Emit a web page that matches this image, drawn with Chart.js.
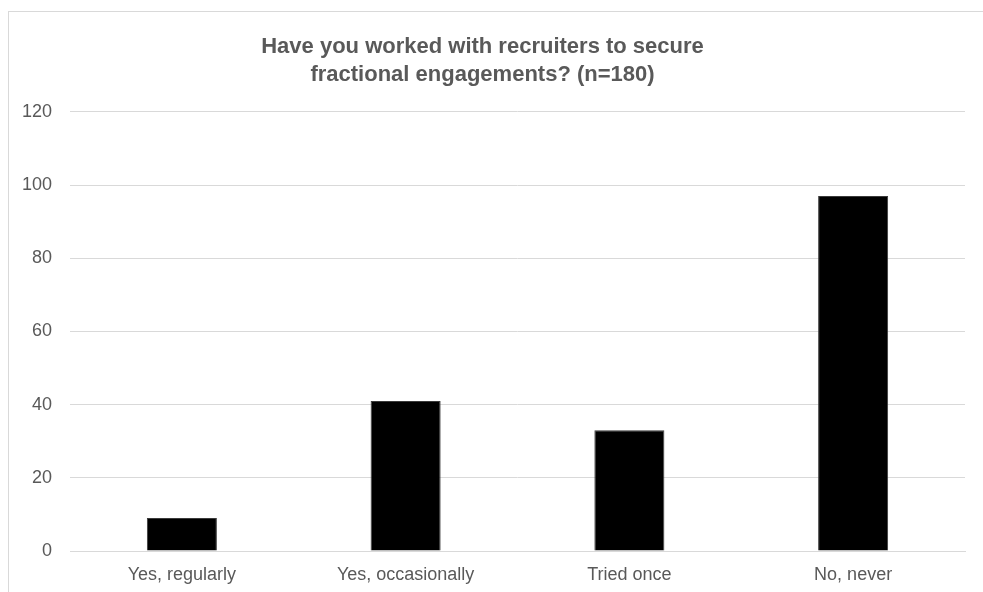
<!DOCTYPE html>
<html>
<head>
<meta charset="utf-8">
<script src="https://cdn.jsdelivr.net/npm/chart.js@4"></script>
<style>
  html, body { margin: 0; padding: 0; background: #fff; overflow: hidden; }
  #frame { position: absolute; left: 8px; top: 11px; width: 990px; height: 600px; border: 1px solid #d9d9d9; }
  #wrap { position: absolute; left: 0; top: 0; width: 983px; height: 592px; }
</style>
</head>
<body>
<div id="frame"></div>
<div id="wrap"><canvas id="recruiterChart"></canvas></div>
<script>
const categories = ['Yes, regularly', 'Yes, occasionally', 'Tried once', 'No, never'];
const responses = [9, 41, 33, 97];
const titleLines = ['Have you worked with recruiters to secure', 'fractional engagements? (n=180)'];

const textGrey = '#595959';
const gridGrey = '#d9d9d9';
const font = 'Arial, "Liberation Sans", sans-serif';

const ctx = document.getElementById('recruiterChart').getContext('2d');

new Chart(ctx, {
  type: 'bar',
  data: {
    labels: categories,
    datasets: [{
      label: 'Responses',
      data: responses,
      backgroundColor: '#000',
      borderColor: '#3a3a3a',
      borderWidth: 1,
      categoryPercentage: 1,
      barPercentage: 0.313
    }]
  },
  options: {
    responsive: true,
    maintainAspectRatio: false,
    animation: false,
    layout: { padding: { left: 0, right: 18, top: 0, bottom: 0 } },
    scales: {
      x: {
        afterFit: scale => { scale.height = 41; },
        grid: { display: false, drawTicks: false },
        border: { color: gridGrey, width: 1 },
        ticks: {
          color: textGrey,
          padding: 13,
          font: { family: font, size: 18 }
        }
      },
      y: {
        min: 0,
        max: 120,
        afterFit: scale => { scale.width = 70; },
        grid: { color: gridGrey, drawTicks: false },
        border: { display: false },
        ticks: {
          stepSize: 20,
          color: textGrey,
          padding: 18,
          font: { family: font, size: 18 }
        }
      }
    },
    plugins: {
      legend: { display: false },
      tooltip: { enabled: false },
      title: {
        display: true,
        text: titleLines,
        color: textGrey,
        font: { family: font, size: 22, weight: 'bold', lineHeight: 1.27 },
        padding: { top: 33, bottom: 23 }
      }
    }
  }
});
</script>
</body>
</html>
